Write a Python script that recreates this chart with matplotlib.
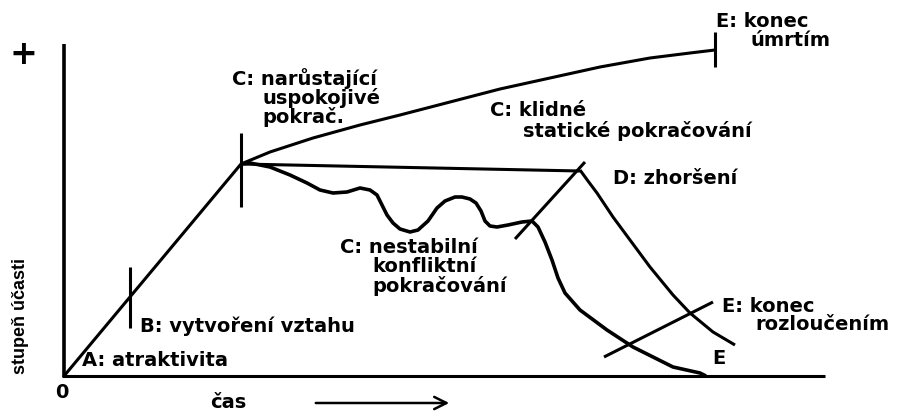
import matplotlib.pyplot as plt

# Schematic of the ABCDE relationship model, coordinates (pixels)
axis_y_x = [64, 64]
axis_y_y = [44, 377]
axis_x_x = [62, 825]
axis_x_y = [376, 376]

# A -> B -> C rising line
rise_x = [64, 241]
rise_y = [376, 164]

# C: growing satisfying continuation -> E: death
upper_x = [241, 270, 313, 360, 400, 450, 500, 550, 600, 650, 690, 715]
upper_y = [164, 152, 138, 125, 115, 102, 89, 78, 67, 58, 53, 50]

# C: calm static continuation (straight) -> D peak
static_x = [241, 580]
static_y = [164, 171]

# D: deterioration curve after the static line
decline_x = [580, 588, 597, 613, 630, 650, 673, 690, 713, 735]
decline_y = [170, 181, 193, 217, 240, 267, 295, 313, 332, 345]

# C: unstable conflicting continuation (wavy) -> E on axis
wavy_x = [241, 250, 270, 290, 307, 320, 333, 347, 360, 370, 377, 382, 387,
          393, 400, 410, 418, 428, 437, 445, 455, 462, 470, 476, 481, 485,
          490, 497, 508, 522, 532, 538, 545, 552, 558, 565, 580, 607, 633,
          673, 700, 706]
wavy_y = [164, 163, 167, 175, 183, 190, 193, 192, 188, 190, 195, 205, 215,
          223, 229, 232, 230, 221, 208, 201, 197, 197, 199, 203, 211, 221,
          226, 227, 225, 222, 221, 227, 242, 260, 278, 293, 310, 330, 347,
          367, 373, 376]

# stage markers
tick_b_x, tick_b_y = [130, 130], [267, 328]
tick_c_x, tick_c_y = [241, 241], [133, 207]
tick_e_x, tick_e_y = [715, 715], [32, 67]
mark_d_x, mark_d_y = [515, 585], [239, 162]
mark_e_x, mark_e_y = [604, 713], [357, 302]

labels = [
    (82, 361, "A: atraktivita"),
    (140, 326, "B: vytvoření vztahu"),
    (232, 79, "C: narůstající"),
    (262, 98, "uspokojivé"),
    (262, 117, "pokrač."),
    (490, 110, "C: klidné"),
    (523, 131, "statické pokračování"),
    (340, 247, "C: nestabilní"),
    (372, 267, "konfliktní"),
    (372, 286, "pokračování"),
    (613, 178, "D: zhoršení"),
    (716, 21, "E: konec"),
    (750, 40, "úmrtím"),
    (722, 307, "E: konec"),
    (755, 325, "rozloučením"),
    (712, 358, "E"),
]

fig = plt.figure(figsize=(8.99, 4.12), dpi=100)
ax = fig.add_axes([0, 0, 1, 1])
ax.set_xlim(0, 899)
ax.set_ylim(412, 0)
ax.axis("off")

lw = 2.2
line_kw = dict(color="black", solid_capstyle="butt", solid_joinstyle="round")
ax.plot(axis_y_x, axis_y_y, lw=2.6, **line_kw)
ax.plot(axis_x_x, axis_x_y, lw=2.2, **line_kw)
ax.plot(rise_x, rise_y, lw=lw, **line_kw)
ax.plot(upper_x, upper_y, lw=lw, **line_kw)
ax.plot(static_x, static_y, lw=lw, **line_kw)
ax.plot(decline_x, decline_y, lw=lw, **line_kw)
ax.plot(wavy_x, wavy_y, lw=2.6, **line_kw)
for xs, ys in [(tick_b_x, tick_b_y), (tick_c_x, tick_c_y), (tick_e_x, tick_e_y),
               (mark_d_x, mark_d_y), (mark_e_x, mark_e_y)]:
    ax.plot(xs, ys, lw=lw, **line_kw)

font = dict(family="DejaVu Sans", fontweight="bold", fontsize=14)
for x, y, s in labels:
    ax.text(x, y, s, ha="left", va="center", **font)

ax.text(23, 54, "+", ha="center", va="center", fontsize=24,
        fontweight="bold", family="DejaVu Sans")
ax.text(62, 393, "0", ha="center", va="center", **font)
ax.text(228, 402, "čas", ha="center", va="center", **font)
ax.text(21, 316, "stupeň účasti", ha="center", va="center", rotation=90,
        family="Liberation Sans", fontweight="bold", fontsize=13)
ax.annotate("", xy=(452, 403), xytext=(313, 403),
            arrowprops=dict(arrowstyle="->", lw=1.8, color="black",
                            mutation_scale=22))

fig.savefig("out.png", dpi=100)
